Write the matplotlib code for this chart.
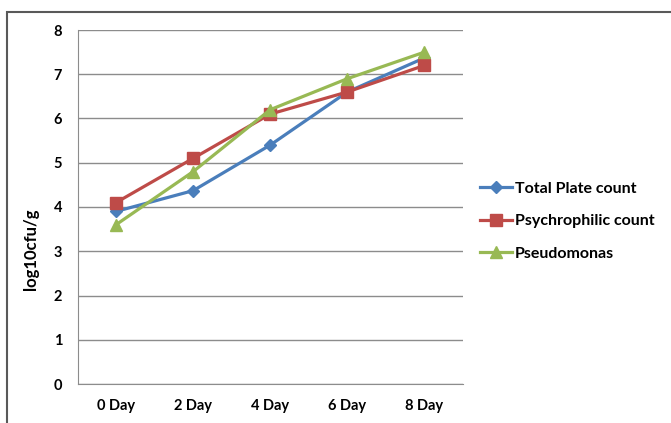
import matplotlib
matplotlib.use("Agg")
import matplotlib.pyplot as plt
from matplotlib.patches import Rectangle

days = ["0 Day", "2 Day", "4 Day", "6 Day", "8 Day"]
total_plate = [3.9, 4.37, 5.4, 6.6, 7.37]
psychrophilic = [4.1, 5.1, 6.1, 6.6, 7.2]
pseudomonas = [3.6, 4.8, 6.2, 6.9, 7.5]

plt.rcParams["font.family"] = ["Lato", "DejaVu Sans"]
plt.rcParams["font.weight"] = "bold"

fig = plt.figure(figsize=(6.71, 4.23), dpi=100)
ax = fig.add_axes([77.5 / 671, 1 - 384 / 423, 385.5 / 671, 354 / 423])

# outer chart frame, cut off at right and bottom
fig.patches.append(
    Rectangle((7 / 671, -0.1), 1.2, 1 - 12 / 423 + 0.1, transform=fig.transFigure,
              fill=False, edgecolor="#595959", linewidth=1.5)
)

x = range(len(days))
ax.plot(x, total_plate, color="#4A7EBB", lw=2.3, marker="D", ms=6.5,
        label="Total Plate count")
ax.plot(x, psychrophilic, color="#BE4B48", lw=2.3, marker="s", ms=8.5,
        label="Psychrophilic count")
ax.plot(x, pseudomonas, color="#98B954", lw=2.3, marker="^", ms=8.5,
        label="Pseudomonas")

ax.set_xlim(-0.5, 4.5)
ax.set_ylim(0, 8)
ax.set_yticks(range(0, 9))
ax.set_xticks(list(x))
ax.set_xticklabels(days)
ax.yaxis.grid(True, color="#8c8c8c", lw=1)
ax.set_axisbelow(True)
ax.tick_params(length=0, labelsize=10.5)
ax.tick_params(axis="y", pad=11)
ax.tick_params(axis="x", pad=11)
for s in ["top", "right"]:
    ax.spines[s].set_visible(False)
for s in ["left", "bottom"]:
    ax.spines[s].set_color("#8c8c8c")

ax.set_ylabel("log10cfu/g", fontsize=12, fontweight="bold")
ax.yaxis.set_label_coords(-0.1, 0.38)

ax.legend(loc="center left", bbox_to_anchor=(480 / 671, 1 - 221 / 423),
          bbox_transform=fig.transFigure, frameon=False, fontsize=11.5,
          handlelength=2.0, handletextpad=0.2, labelspacing=1.15,
          borderpad=0, borderaxespad=0)

fig.savefig("out.png", dpi=100)
